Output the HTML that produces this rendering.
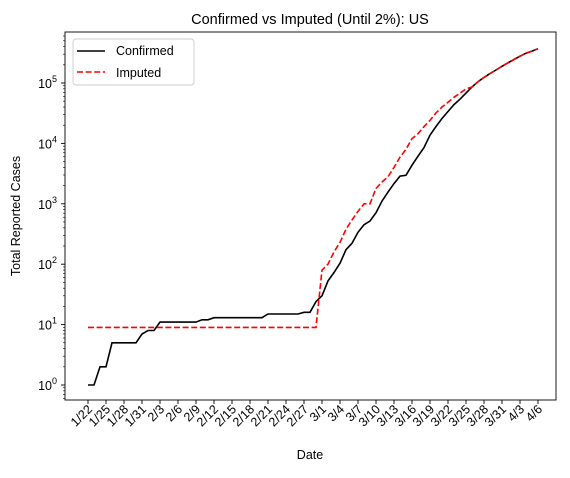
<!DOCTYPE html>
<html><head><meta charset="utf-8"><style>
body{margin:0;background:#fff;}
svg text{font-family:"Liberation Sans","DejaVu Sans",sans-serif;fill:#000;}
</style></head><body>
<svg id="chart" width="570" height="473" xmlns="http://www.w3.org/2000/svg"></svg>
<script>
const dateLabels=["1/22","1/25","1/28","1/31","2/3","2/6","2/9","2/12","2/15","2/18","2/21","2/24","2/27","3/1","3/4","3/7","3/10","3/13","3/16","3/19","3/22","3/25","3/28","3/31","4/3","4/6"];
const confirmed=[1,1,2,2,5,5,5,5,5,7,8,8,11,11,11,11,11,11,11,12,12,13,13,13,13,13,13,13,13,13,15,15,15,15,15,15,16,16,24,30,53,73,104,174,222,337,451,519,711,1109,1561,2157,2870,2968,4360,6141,8518,13667,19075,25830,33733,43845,54000,68000,86000,105000,124000,143000,164000,189000,216000,245000,278000,312000,337000,368000];
const imputedFlat=[9,9,9,9,9,9,9,9,9,9, 9,9,9,9,9,9,9,9,9,9, 9,9,9,9,9,9,9,9,9,9, 9,9,9,9,9,9,9,9,9];
const imputedRise=[80,100,160,230,380,540,750,1000,1000, 1800,2300,2800,4000,5900,8000,12000,14500,19000,24000,32000,40000,48000,58000,68000,80000, 86000,105000,124000,143000,164000,189000,216000,245000,278000,312000,337000,368000];
const imputed=imputedFlat.concat(imputedRise);
const yTicks=[0,1,2,3,4,5];
const NS="http://www.w3.org/2000/svg";
const svg=document.getElementById('chart');
const L=65,R=556,T=32,B=400;
const xs=i=>88+i*6.0;
const ys=v=>385-60.4*Math.log10(v);
function el(t,a,p){const e=document.createElementNS(NS,t);for(const k in a)e.setAttribute(k,a[k]);(p||svg).appendChild(e);return e;}
let t=el('text',{x:310,y:24,'text-anchor':'middle','font-size':14.5});t.textContent="Confirmed vs Imputed (Until 2%): US";


yTicks.forEach(p=>{
  const y=ys(Math.pow(10,p));
  const ln=el('line',{x1:L-4,x2:L,y1:y,y2:y,stroke:'#000','stroke-width':0.9});
  
  
  const tx=el('text',{x:L-8,y:y+5,'text-anchor':'end','font-size':12.5});
  tx.innerHTML='10<tspan dy="-6" font-size="9">'+p+'</tspan>';
  
  
});
for(let p=-1;p<=5;p++){for(let m=2;m<=9;m++){const v=m*Math.pow(10,p);const y=ys(v);if(y<T||y>B)continue;
  const ln=el('line',{x1:L-2,x2:L,y1:y,y2:y,stroke:'#000','stroke-width':0.6});
  
  }}
dateLabels.forEach((d,k)=>{
  const x=xs(k*3);
  const ln=el('line',{x1:x,x2:x,y1:B,y2:B+4,stroke:'#000','stroke-width':0.9});
  
  
  const tx=el('text',{x:x+5,y:B+10,'text-anchor':'end','font-size':12.5,transform:`rotate(-45 ${x+5} ${B+10})`});
  tx.textContent=d;
  
  
});
t=el('text',{x:310,y:459,'text-anchor':'middle','font-size':12.5});t.textContent="Date";


t=el('text',{x:20,y:216,'text-anchor':'middle','font-size':12.5,transform:'rotate(-90 20 216)'});t.textContent="Total Reported Cases";


function path(arr){return arr.map((v,i)=>(i?'L':'M')+xs(i).toFixed(1)+','+ys(v).toFixed(1)).join('');}
let p1=el('path',{d:path(confirmed),fill:'none',stroke:'#000','stroke-width':1.6});


let p2=el('path',{d:path(imputed),fill:'none',stroke:'#f00','stroke-width':1.6,'stroke-dasharray':'6,2.6'});


let fr=el('rect',{x:L,y:T,width:R-L,height:B-T,fill:'none',stroke:'#000','stroke-width':0.9});


const g=el('g',{});


el('rect',{x:73,y:39,width:121,height:46,rx:3,fill:'#fff',stroke:'#ccc','stroke-width':0.9},g);
let l1=el('line',{x1:77,x2:105,y1:51,y2:51,stroke:'#000','stroke-width':1.6},g);


t=el('text',{x:116,y:55,'font-size':12.5},g);t.textContent="Confirmed";


let l2=el('line',{x1:77,x2:105,y1:72,y2:72,stroke:'#f00','stroke-width':1.6,'stroke-dasharray':'6,2.6'},g);


t=el('text',{x:116,y:77,'font-size':12.5},g);t.textContent="Imputed";


</script>
</body></html>
